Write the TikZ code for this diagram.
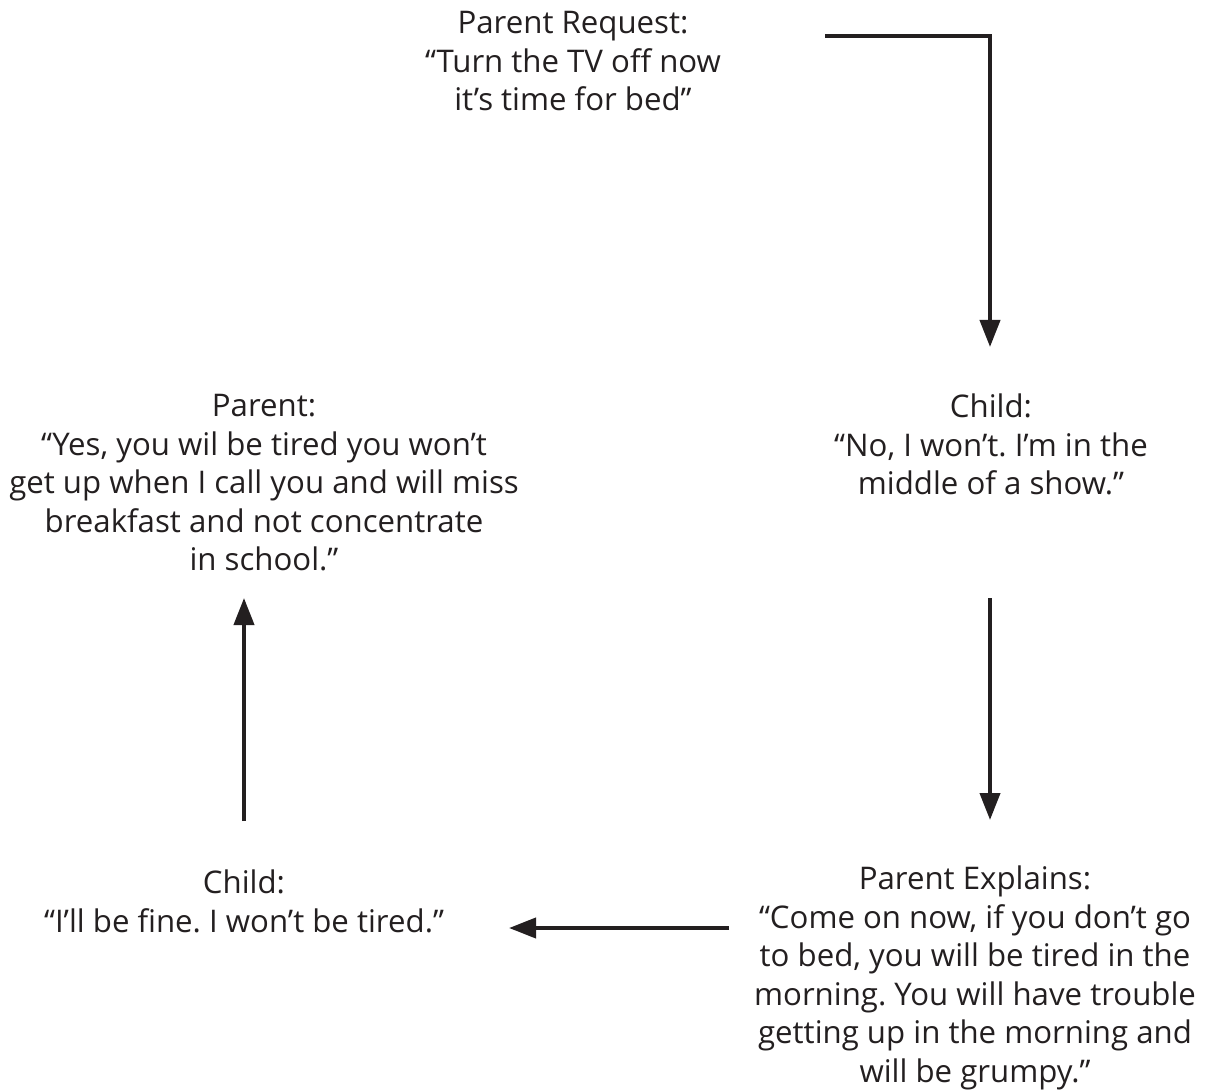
\documentclass[tikz,border=0pt]{standalone}
\usepackage{fontspec}
\setmainfont{Open Sans}
\frenchspacing
\usetikzlibrary{arrows.meta}
\definecolor{ink}{HTML}{231F20}
\begin{document}
\begin{tikzpicture}[x=0.5pt,y=-0.5pt,
  txt/.style={align=center,text=ink,inner sep=0pt,font=\fontsize{15.6pt}{19.25pt}\selectfont},
  arr/.style={draw=ink,line width=2pt,-{Triangle[length=13.5pt,width=10pt]}}]
\useasboundingbox[fill=white] (0,0) rectangle (1205,1091);
\node[txt] (req) at (573,61.5) {Parent Request:\\``Turn the TV off now\\it’s time for bed''};
\node[txt] (child1) at (991,444.5) {Child:\\``No, I won’t. I’m in the\\middle of a show.''};
\node[txt] (explain) at (975,978) {Parent Explains:\\``Come on now, if you don’t go\\to bed, you will be tired in the\\morning. You will have trouble\\getting up in the morning and\\will be grumpy.''};
\node[txt] (child2) at (244,901.5) {Child:\\``I’ll be fine. I won’t be tired.''};
\node[txt] (parent) at (264,483) {Parent:\\``Yes, you wil be tired you won’t\\get up when I call you and will miss\\breakfast and not concentrate\\in school.''};
\coordinate (s1) at (825,36);
\coordinate (e1) at (990,347);
\coordinate (s2) at (990,598);
\coordinate (e2) at (990,820);
\coordinate (s3) at (729,928);
\coordinate (e3) at (509,928);
\coordinate (s4) at (244,821);
\coordinate (e4) at (244,598);
\draw[arr] (s1) -| (e1);
\draw[arr] (s2) -- (e2);
\draw[arr] (s3) -- (e3);
\draw[arr] (s4) -- (e4);
\end{tikzpicture}
\end{document}
